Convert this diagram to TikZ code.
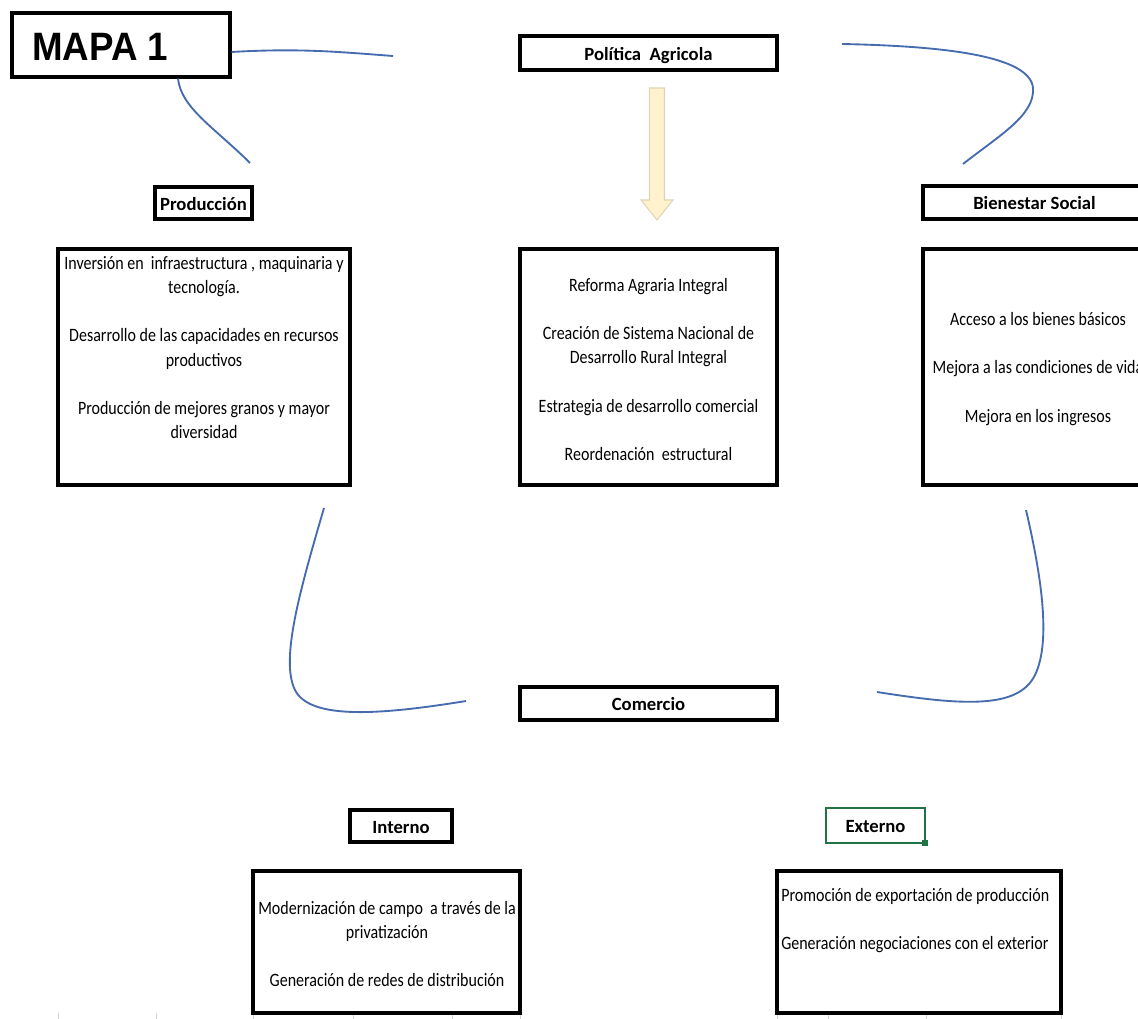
\documentclass[tikz,border=0pt]{standalone}
\usepackage{fontspec}
\usepackage{graphicx}
\setmainfont{Carlito}
\newfontfamily\arialfont{Liberation Sans}
\newcommand\vs[1]{\scalebox{1}[1.18]{#1}}
\definecolor{curveblue}{RGB}{70,108,175}
\definecolor{xlgreen}{RGB}{33,115,70}
\definecolor{arrowfill}{RGB}{255,242,204}
\definecolor{arrowline}{RGB}{222,212,185}
\definecolor{gridgray}{RGB}{210,210,210}
\begin{document}
\begin{tikzpicture}[x=0.75pt,y=-0.75pt,
  box/.style={draw=black, line width=2.3pt, fill=white, inner sep=0pt},
  hdr/.style={box, text height=11pt, text depth=0pt, font=\fontsize{14}{16}\selectfont\bfseries},
  txt/.style={inner sep=0pt, align=center, font=\fontsize{12}{18.15}\selectfont},
  curve/.style={draw=curveblue, line width=1.4pt},
  tick/.style={draw=gridgray, line width=0.6pt}]
\useasboundingbox (0,0) rectangle (1138,1019);
\clip (0,0) rectangle (1138,1019);

% grid stubs
\foreach \gx in {58,156,253,353,452,520,777,828,926,1061}
  \draw[tick] (\gx,1013) -- (\gx,1019);

% title
\node[box, minimum width=163.5pt, minimum height=48pt] (mapa) at (121,45) {};
\node[anchor=west, inner sep=0pt, font=\arialfont\fontsize{27}{30}\selectfont\bfseries] (mapat) at (32,47) {\scalebox{1.02}[1.1]{MAPA 1}};

% headers
\node[hdr, minimum width=192.75pt, minimum height=25.5pt] (pol) at (648.5,53) {Política\ \ Agricola};
\node[hdr, minimum width=72.75pt, minimum height=24pt] (prod) at (203.5,203) {Producción};
\node[hdr, minimum width=170.25pt, minimum height=24.75pt] (bien) at (1036.5,202.5) {\hspace*{-3pt}Bienestar Social};
\node[hdr, minimum width=192.75pt, minimum height=24.75pt] (com) at (648.5,703.5) {Comercio};
\node[hdr, minimum width=76.5pt, minimum height=24pt] (int) at (401,826) {Interno};
\node[hdr, draw=xlgreen, line width=1.6pt, minimum width=74.25pt, minimum height=26.25pt] (ext) at (875.5,825.5) {Externo};
\fill[xlgreen] (922,840) rectangle (928,846);

% content boxes
\node[box, minimum width=219pt, minimum height=177pt] (prodbox) at (204,367) {};
\node[box, minimum width=192.75pt, minimum height=177pt] (polbox) at (648.5,367) {};
\node[box, minimum width=170.25pt, minimum height=177pt] (bienbox) at (1036.5,367) {};
\node[box, minimum width=200.25pt, minimum height=106.5pt] (intbox) at (386.5,942) {};
\node[box, minimum width=213pt, minimum height=106.5pt] (extbox) at (919,942) {};

% content texts
\node[txt, anchor=north] (prodtxt) at (204,256) {\vs{Inversión en\ \ infraestructura , maquinaria y}\\\vs{tecnología.}\\[18.15pt]\vs{Desarrollo de las capacidades en recursos}\\\vs{productivos}\\[18.15pt]\vs{Producción de mejores granos y mayor}\\\vs{diversidad}};
\node[txt, anchor=north] (poltxt) at (648.5,278) {\vs{Reforma Agraria Integral}\\[18.15pt]\vs{Creación de Sistema Nacional de}\\\vs{Desarrollo Rural Integral}\\[18.15pt]\vs{Estrategia de desarrollo comercial}\\[18.15pt]\vs{Reordenación\ \ estructural}};
\node[txt, anchor=north] (bientxt) at (1038,312) {\vs{Acceso a los bienes básicos}\\[18.15pt]\vs{Mejora a las condiciones de vida}\\[18.15pt]\vs{Mejora en los ingresos}};
\node[txt, anchor=north] (inttxt) at (387,901) {\vs{Modernización de campo\ \ a través de la}\\\vs{privatización}\\[18.15pt]\vs{Generación de redes de distribución}};
\node[txt, align=left, anchor=north west] (exttxt) at (781,888) {\vs{Promoción de exportación de producción}\\[18.15pt]\vs{Generación negociaciones con el exterior}};

% block arrow
\draw[fill=arrowfill, draw=arrowline, line width=0.8pt]
  (649.5,88) -- (664.5,88) -- (664.5,200) -- (673,200) -- (657,220) -- (641,200) -- (649.5,200) -- cycle;

% free curve ends
\coordinate (c1) at (393,56);
\coordinate (c2) at (250,163);
\coordinate (c3s) at (842,44);
\coordinate (c3) at (963,164);
\coordinate (c4s) at (324,508);
\coordinate (c4) at (466,701);
\coordinate (c5s) at (1026,510);
\coordinate (c5) at (877,692);

% curves
\draw[curve] ([yshift=-5.25pt]mapa.east) .. controls (300,48) and (340,52) .. (c1);
\draw[curve] ([xshift=42.75pt]mapa.south) .. controls (181,108) and (215,128) .. (c2);
\draw[curve] (c3s) .. controls (940,46) and (1030,55) .. (1033,88) .. controls (1035,115) and (1000,135) .. (c3);
\draw[curve] (c4s) .. controls (300,590) and (280,660) .. (295,690) .. controls (310,720) and (380,715) .. (c4);
\draw[curve] (c5s) .. controls (1040,570) and (1052,640) .. (1035,675) .. controls (1018,710) and (960,705) .. (c5);
\end{tikzpicture}
\end{document}
